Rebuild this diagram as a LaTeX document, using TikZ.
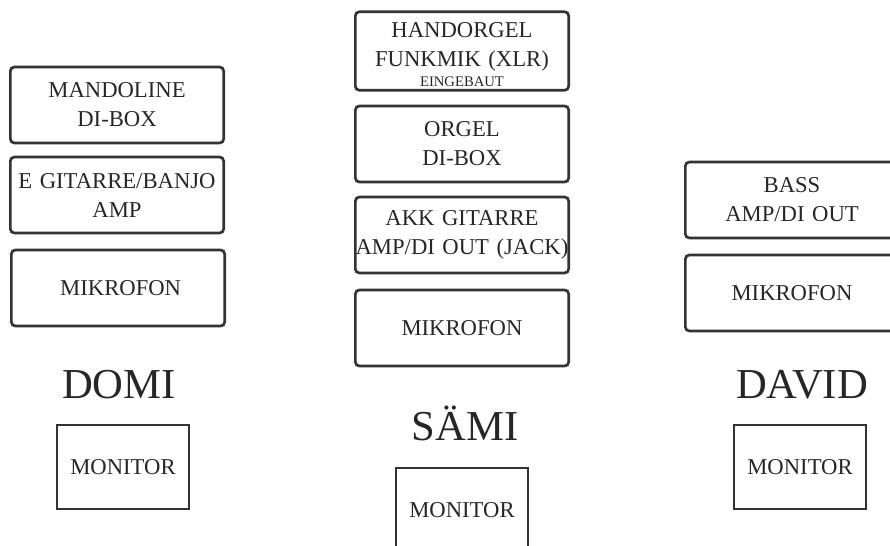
\documentclass[tikz,border=0pt]{standalone}
\usepackage{fontspec}
\setmainfont{Liberation Serif}
\definecolor{ink}{HTML}{333333}
\begin{document}
\begin{tikzpicture}[x=0.75pt, y=-0.75pt, ink, player/.style={anchor=base, text=black!85, font=\fontsize{32}{38}\selectfont}]
\useasboundingbox (0,0) rectangle (890,546);
   \begin{scope}[every node/.style={draw=ink, line width=2pt, rounded corners=3pt, minimum width=160pt, minimum height=57pt, text width=154pt, inner sep=3pt, align=center, text=black!85, font=\fontsize{17}{21.75}\selectfont}]
% Domi
\node (mandoline) at (117,105) {MANDOLINE\\DI-BOX};
\node (egitarre) at (117,195) {E GITARRE/BANJO\\AMP};
\node (mikdomi) at (118,288) {\hspace{4pt}MIKROFON};
% Saemi
\node (handorgel) at (462,51) {\rule{0pt}{16pt}HANDORGEL\\FUNKMIK (XLR)\\[-6.75pt]{\fontsize{11}{13}\selectfont EINGEBAUT}};
\node (orgel) at (462,144) {ORGEL\\DI-BOX};
\node (akk) at (462,235) {AKK GITARRE\\\makebox[\linewidth]{AMP/DI OUT (JACK)}};
\node (miksaemi) at (462,328) {MIKROFON};
% David
\node (bass) at (792,200) {BASS\\AMP/DI OUT};
\node (mikdavid) at (792,293) {MIKROFON};
  \end{scope}
\node [player] (domi) at (119,398) {DOMI};
\node [player] (saemi) at (465,440) {SÄMI};
\node [player] (david) at (802,398) {DAVID};
   \begin{scope}[every node/.style={draw=ink, line width=1pt, minimum width=99pt, minimum height=63pt, text=black!85, font=\fontsize{17}{21}\selectfont}]
\node (mondomi) at (123,467) {MONITOR};
\node (monsaemi) at (462,510) {MONITOR};
\node (mondavid) at (800,467) {MONITOR};
  \end{scope}
\end{tikzpicture}
\end{document}
